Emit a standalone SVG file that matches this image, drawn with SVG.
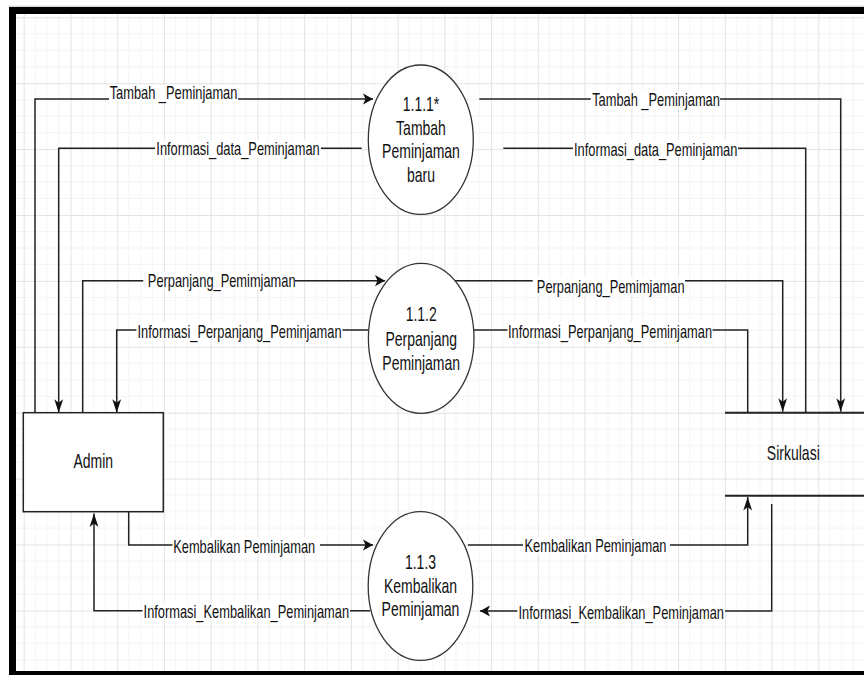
<svg xmlns="http://www.w3.org/2000/svg" width="864" height="675" viewBox="0 0 864 675">
  <defs>
    <style>
      .edge { fill: none; stroke: #222; stroke-width: 1.5; }
      .store { fill: none; stroke: #222; stroke-width: 2; }
      .proc { fill: #fff; stroke: #333; stroke-width: 1.3; }
      .ent { fill: #fff; stroke: #222; stroke-width: 1.5; }
      .bg { fill: #fff; }
      .lbl { font-family: "Liberation Sans", Arial, sans-serif; font-size: 12.85px; text-anchor: middle; dominant-baseline: central; fill: #111; }
      .vtx { font-family: "Liberation Sans", Arial, sans-serif; font-size: 14px; text-anchor: middle; dominant-baseline: central; fill: #111; }
      .minor { stroke: #f4f4f4; stroke-width: 1; }
      .major { stroke: #e3e3e3; stroke-width: 1; }
    </style>
    <!-- canvas grid: 4 minor cells per major cell -->
    <pattern id="grid" patternUnits="userSpaceOnUse" x="23.7" y="17.3" width="46.74" height="65.9">
      <line class="minor" x1="11.685" y1="0" x2="11.685" y2="65.9"/>
      <line class="minor" x1="23.37" y1="0" x2="23.37" y2="65.9"/>
      <line class="minor" x1="35.055" y1="0" x2="35.055" y2="65.9"/>
      <line class="minor" x1="0" y1="16.475" x2="46.74" y2="16.475"/>
      <line class="minor" x1="0" y1="32.95" x2="46.74" y2="32.95"/>
      <line class="minor" x1="0" y1="49.425" x2="46.74" y2="49.425"/>
      <line class="major" x1="0.5" y1="0" x2="0.5" y2="65.9"/>
      <line class="major" x1="0" y1="0.5" x2="46.74" y2="0.5"/>
    </pattern>
    <marker id="arrH" markerUnits="userSpaceOnUse" orient="auto" refX="0" refY="0" markerWidth="20" markerHeight="20" overflow="visible">
      <path d="M0,0 L-10,-5.6 L-7.5,0 L-10,5.6 Z" fill="#111"/>
    </marker>
    <marker id="arrV" markerUnits="userSpaceOnUse" orient="auto" refX="0" refY="0" markerWidth="20" markerHeight="20" overflow="visible">
      <path d="M0,0 L-13.5,-4.4 L-10,0 L-13.5,4.4 Z" fill="#111"/>
    </marker>
  </defs>

  <!-- page -->
  <rect x="0" y="0" width="864" height="675" fill="#fff"/>
  <rect x="16" y="14" width="848" height="657" fill="url(#grid)"/>
  <line x1="9" y1="6.2" x2="864" y2="6.2" stroke="#c8c8c8" stroke-width="1"/>
  <rect x="9" y="7" width="855" height="7" fill="#000"/>
  <rect x="9" y="7" width="7" height="668" fill="#000"/>
  <rect x="9" y="671" width="855" height="4" fill="#000"/>

  <!-- data flows -->
  <g id="connectors">
    <path class="edge" d="M35,412.7 V99 H373" marker-end="url(#arrH)"/>
    <path class="edge" d="M361.7,148.3 H58.7 V412.7" marker-end="url(#arrV)"/>
    <path class="edge" d="M479.3,99 H840.7 V411.7" marker-end="url(#arrV)"/>
    <path class="edge" d="M503.3,148.3 H805.7 V412.7"/>
    <path class="edge" d="M82.7,412.7 V280.7 H385" marker-end="url(#arrH)"/>
    <path class="edge" d="M368,330 H116.7 V412.7" marker-end="url(#arrV)"/>
    <path class="edge" d="M455,280.7 H782.7 V411.7" marker-end="url(#arrV)"/>
    <path class="edge" d="M473.3,330 H747.7 V412.7"/>
    <path class="edge" d="M128.7,511.7 V545 H373" marker-end="url(#arrH)"/>
    <path class="edge" d="M370,610.7 H94 V513.5" marker-end="url(#arrV)"/>
    <path class="edge" d="M468,545 H747.7 V497" marker-end="url(#arrV)"/>
    <path class="edge" d="M771.7,504 V611 H480" marker-end="url(#arrH)"/>

    <g id="edge-labels">
      <rect class="bg" x="109" y="85" width="129" height="16"/>
      <text class="lbl" transform="translate(173.5 93) scale(1 1.41)">Tambah _Peminjaman</text>
      <rect class="bg" x="155" y="140" width="166" height="17"/>
      <text class="lbl" transform="translate(238 149) scale(1 1.41)">Informasi_data_Peminjaman</text>
      <rect class="bg" x="590.7" y="91" width="129.3" height="17"/>
      <text class="lbl" transform="translate(656 99.5) scale(1 1.41)">Tambah _Peminjaman</text>
      <rect class="bg" x="573" y="140" width="165" height="17"/>
      <text class="lbl" transform="translate(655.7 149.5) scale(1 1.41)">Informasi_data_Peminjaman</text>

      <rect class="bg" x="143.3" y="272" width="151.7" height="17"/>
      <text class="lbl" transform="translate(221.7 280.5) scale(1 1.41)">Perpanjang_Pemimjaman</text>
      <rect class="bg" x="136.5" y="322" width="206" height="17"/>
      <text class="lbl" transform="translate(239.5 331.5) scale(1 1.41)">Informasi_Perpanjang_Peminjaman</text>
      <rect class="bg" x="532.7" y="277" width="152.3" height="19"/>
      <text class="lbl" transform="translate(610.7 287) scale(1 1.41)">Perpanjang_Pemimjaman</text>
      <rect class="bg" x="507.5" y="322" width="205" height="17"/>
      <text class="lbl" transform="translate(610 331.5) scale(1 1.41)">Informasi_Perpanjang_Peminjaman</text>

      <rect class="bg" x="172.5" y="537" width="147.5" height="17"/>
      <text class="lbl" transform="translate(244.2 546.3) scale(1 1.41)">Kembalikan Peminjaman</text>
      <rect class="bg" x="142.5" y="603" width="207.5" height="17"/>
      <text class="lbl" transform="translate(246.3 612) scale(1 1.41)">Informasi_Kembalikan_Peminjaman</text>
      <rect class="bg" x="523" y="537" width="147" height="17"/>
      <text class="lbl" transform="translate(595.5 546) scale(1 1.41)">Kembalikan Peminjaman</text>
      <rect class="bg" x="517.5" y="603" width="207.5" height="17"/>
      <text class="lbl" transform="translate(621.2 612.3) scale(1 1.41)">Informasi_Kembalikan_Peminjaman</text>
    </g>
  </g>

  <!-- external entity -->
  <g id="admin">
    <rect class="ent" x="23.3" y="412.7" width="140" height="99"/>
    <text class="vtx" transform="translate(93.3 461.7) scale(1 1.41)">Admin</text>
  </g>

  <!-- processes -->
  <g id="proc-1-1-1">
    <ellipse class="proc" cx="420.8" cy="139.7" rx="52.5" ry="74.7"/>
    <text class="vtx" transform="translate(421 105) scale(1 1.41)">1.1.1*</text>
    <text class="vtx" transform="translate(421 128.5) scale(1 1.41)">Tambah</text>
    <text class="vtx" transform="translate(421 152) scale(1 1.41)">Peminjaman</text>
    <text class="vtx" transform="translate(421 175.5) scale(1 1.41)">baru</text>
  </g>
  <g id="proc-1-1-2">
    <ellipse class="proc" cx="421.2" cy="338.3" rx="52.8" ry="75"/>
    <text class="vtx" transform="translate(421.2 315) scale(1 1.41)">1.1.2</text>
    <text class="vtx" transform="translate(421.2 339.3) scale(1 1.41)">Perpanjang</text>
    <text class="vtx" transform="translate(421.2 363.3) scale(1 1.41)">Peminjaman</text>
  </g>
  <g id="proc-1-1-3">
    <ellipse class="proc" cx="420.5" cy="586" rx="52.3" ry="74.3"/>
    <text class="vtx" transform="translate(420.5 563) scale(1 1.41)">1.1.3</text>
    <text class="vtx" transform="translate(420.5 586.5) scale(1 1.41)">Kembalikan</text>
    <text class="vtx" transform="translate(420.5 610) scale(1 1.41)">Peminjaman</text>
  </g>

  <!-- data store -->
  <g id="sirkulasi">
    <line class="store" x1="725" y1="412.7" x2="864" y2="412.7"/>
    <line class="store" x1="725" y1="495.7" x2="864" y2="495.7"/>
    <text class="vtx" transform="translate(793.3 454) scale(1 1.41)">Sirkulasi</text>
  </g>
</svg>
